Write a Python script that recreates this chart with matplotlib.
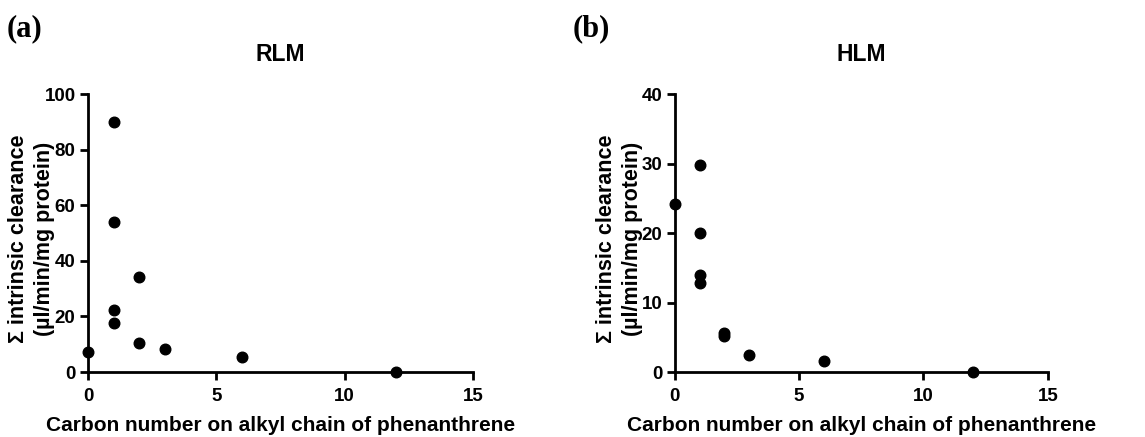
import numpy as np
import matplotlib
matplotlib.use("Agg")
import matplotlib.pyplot as plt

plt.rcParams['font.family'] = ['Liberation Sans', 'DejaVu Sans']
plt.rcParams['font.weight'] = 'bold'

# Carbon number vs summed intrinsic clearance
rlm_carbon = [0, 1, 1, 1, 1, 2, 2, 3, 6, 12]
rlm_clint = [7.3, 90.0, 54.1, 22.3, 17.7, 34.2, 10.3, 8.4, 5.5, 0.0]

hlm_carbon = [0, 1, 1, 1, 1, 2, 2, 3, 6, 12]
hlm_clint = [24.2, 29.8, 20.0, 13.9, 12.8, 5.6, 5.2, 2.4, 1.6, 0.0]

xlabel = "Carbon number on alkyl chain of phenanthrene"
ylabel = "Σ intrinsic clearance\n(µl/min/mg protein)"

fig = plt.figure(figsize=(11.45, 4.37), dpi=100)
ax1 = fig.add_axes([0.0769, 0.1487, 0.3362, 0.636])
ax2 = fig.add_axes([0.5893, 0.1487, 0.3258, 0.636])

panels = [
    (ax1, rlm_carbon, rlm_clint, "RLM", 100, 20, "(a)", 0.006),
    (ax2, hlm_carbon, hlm_clint, "HLM", 40, 10, "(b)", 0.500),
]

for ax, x, y, name, ymax, ystep, tag, tx in panels:
    ax.scatter(x, y, s=58, color='black', zorder=3, clip_on=False)
    ax.set_xlim(0, 15)
    ax.set_ylim(0, ymax)
    ax.set_xticks([0, 5, 10, 15])
    ax.set_yticks(np.arange(0, ymax + 1, ystep))
    for s in ['top', 'right']:
        ax.spines[s].set_visible(False)
    for s in ['left', 'bottom']:
        ax.spines[s].set_linewidth(2.0)
    ax.tick_params(width=2.0, length=5.5, labelsize=13.5, direction='out')
    ax.tick_params(axis='x', pad=6)
    for lab in ax.get_xticklabels() + ax.get_yticklabels():
        lab.set_fontweight('bold')
    ax.set_xlabel(xlabel, fontsize=15, fontweight='bold', labelpad=8)
    ax.set_ylabel(ylabel, fontsize=15.5, fontweight='bold', linespacing=1.3)
    ax.yaxis.set_label_coords(-0.086, 0.478)
    ax.set_title(name, fontsize=16.5, fontweight='bold', pad=24)
    fig.text(tx, 0.935, tag, fontsize=22, fontweight='bold',
             family='Liberation Serif', va='center', ha='left')

fig.savefig("out.png", dpi=100)
